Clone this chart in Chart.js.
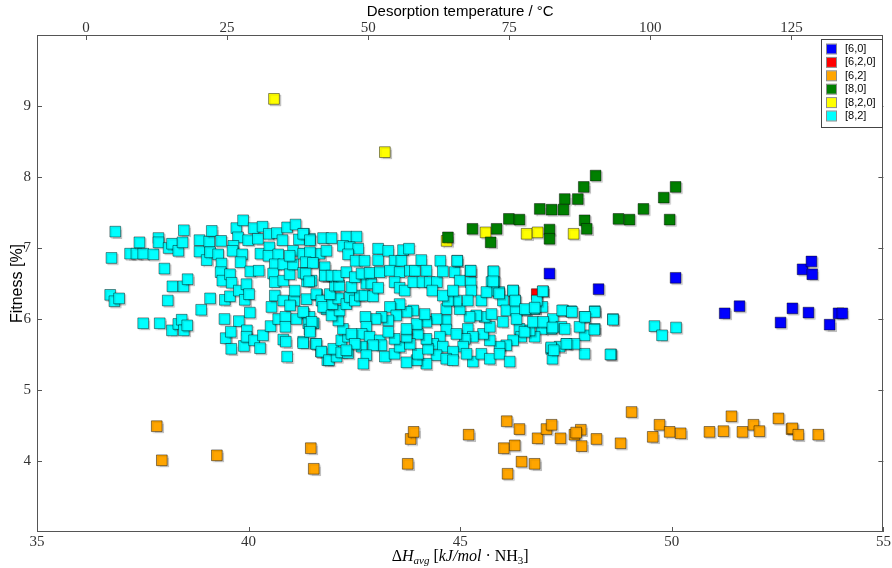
<!DOCTYPE html>
<html>
<head>
<meta charset="utf-8">
<script src="https://cdn.jsdelivr.net/npm/chart.js@4.4.1/dist/chart.umd.min.js"></script>
<style>
  body { margin: 0; background: #fff; }
  canvas { display: block; }
</style>
</head>
<body>
<canvas id="fitness" width="892" height="568"></canvas>
<script>
// tick labels
const xTicks = [35, 40, 45, 50, 55];
const yTicks = [4, 5, 6, 7, 8, 9];
const tempTicks = [0, 25, 50, 75, 100, 125];

// series names (legend order)
const seriesNames = ['[6,0]', '[6,2,0]', '[6,2]', '[8,0]', '[8,2,0]', '[8,2]'];

// [dH_avg, fitness] pairs
const s60 = [
  [47.11, 6.64], [48.27, 6.42], [50.09, 6.58], [51.25, 6.08], [51.60, 6.18],
  [52.57, 5.95], [52.85, 6.15], [53.09, 6.70], [53.30, 6.81], [53.32, 6.63],
  [53.23, 6.09], [53.73, 5.92], [53.94, 6.08], [54.03, 6.08]
];
const s620 = [[46.81, 6.35]];
const s62 = [
  [37.83, 4.49], [37.95, 4.01], [39.25, 4.08], [41.47, 4.18], [41.54, 3.89],
  [43.76, 3.96], [43.83, 4.31], [43.90, 4.41], [45.20, 4.37], [46.10, 4.56],
  [46.40, 4.45], [46.03, 4.18], [46.29, 4.22], [46.45, 3.99], [46.12, 3.82],
  [46.76, 3.96], [46.83, 4.32], [47.04, 4.45], [47.16, 4.51], [47.37, 4.32],
  [47.70, 4.37], [47.85, 4.44], [47.87, 4.21], [48.22, 4.31], [48.79, 4.25],
  [49.05, 4.69], [49.55, 4.34], [49.71, 4.51], [49.95, 4.41], [50.21, 4.39],
  [50.89, 4.41], [51.22, 4.42], [51.41, 4.63], [51.67, 4.41], [51.93, 4.51],
  [52.07, 4.42], [52.52, 4.60], [52.83, 4.45], [52.85, 4.46], [52.99, 4.37],
  [53.46, 4.37], [47.74, 4.40]
];
const s80 = [
  [48.20, 8.02], [47.92, 7.86], [50.09, 7.86], [47.47, 7.69], [47.78, 7.69],
  [49.81, 7.71], [46.88, 7.55], [47.16, 7.54], [47.44, 7.54], [49.33, 7.55],
  [46.15, 7.41], [46.40, 7.40], [48.74, 7.41], [49.00, 7.40], [49.95, 7.40],
  [47.94, 7.39], [47.99, 7.27], [45.29, 7.27], [45.86, 7.27], [47.11, 7.26],
  [47.11, 7.13], [45.72, 7.08], [44.71, 7.15]
];
const s820 = [
  [44.68, 7.10], [45.60, 7.22], [46.57, 7.20], [46.83, 7.22], [47.68, 7.20],
  [40.60, 9.10], [43.22, 8.35]
];
const s82 = [
  [36.85, 7.23], [36.76, 6.86], [36.73, 6.34], [36.83, 6.25], [36.94, 6.29],
  [37.20, 6.92], [37.35, 6.92], [37.51, 6.92], [37.42, 7.08], [37.75, 6.91],
  [37.87, 7.14], [37.87, 7.08], [38.01, 6.71], [38.11, 7.00], [38.19, 7.06],
  [38.34, 6.96], [38.44, 7.08], [38.47, 7.25], [38.20, 6.46], [38.46, 6.46],
  [38.56, 6.56], [38.09, 6.26], [37.51, 5.94], [37.90, 5.94], [38.19, 5.84],
  [38.34, 5.93], [38.42, 5.99], [38.47, 5.84], [38.55, 5.91], [38.88, 6.13],
  [39.09, 6.29], [38.84, 7.11], [38.84, 6.95], [39.07, 7.09], [39.13, 7.24],
  [39.01, 6.83], [39.09, 6.94], [39.28, 6.91], [39.35, 7.10], [39.36, 6.78],
  [39.34, 6.66], [39.38, 6.54], [39.56, 6.63], [39.60, 6.51], [39.44, 6.27],
  [39.56, 6.32], [39.77, 6.40], [39.95, 6.49], [39.91, 6.27], [40.01, 6.35],
  [40.03, 6.09], [39.43, 6.00], [39.77, 5.97], [39.46, 5.73], [39.58, 5.82],
  [39.59, 5.58], [39.89, 5.62], [39.96, 5.84], [39.95, 5.75], [40.13, 5.70],
  [40.27, 5.59], [40.34, 5.77], [40.52, 5.90], [40.70, 6.00], [40.82, 5.71],
  [40.88, 5.68], [40.91, 5.47], [41.29, 5.68], [41.59, 5.65], [41.71, 5.54],
  [41.86, 5.42], [41.30, 6.08], [41.44, 6.03], [41.41, 5.94], [41.54, 5.94],
  [41.44, 5.85], [40.87, 6.03], [40.87, 5.89], [41.13, 6.00], [40.54, 6.17],
  [40.62, 6.33], [40.82, 6.26], [41.08, 6.26], [40.98, 6.19], [41.09, 6.40],
  [41.37, 6.28], [41.62, 6.34], [41.76, 6.26], [41.84, 6.14], [39.71, 7.28],
  [39.87, 7.39], [39.75, 7.15], [39.99, 7.11], [40.12, 7.28], [40.22, 7.13],
  [40.33, 7.30], [40.48, 7.20], [40.67, 7.21], [40.80, 7.11], [40.91, 7.29],
  [41.11, 7.33], [41.31, 7.20], [41.19, 7.12], [41.45, 7.13], [41.76, 7.14],
  [39.64, 7.03], [39.62, 6.96], [39.85, 6.91], [39.81, 6.80], [40.04, 6.67],
  [40.24, 6.68], [40.28, 6.92], [40.49, 7.01], [40.47, 6.89], [40.70, 6.91],
  [40.62, 6.77], [40.58, 6.64], [40.62, 6.52], [40.82, 6.77], [40.82, 6.54],
  [40.97, 6.63], [41.05, 6.77], [41.05, 6.96], [40.97, 6.89], [41.33, 6.92],
  [41.29, 6.65], [41.38, 6.53], [41.49, 6.54], [41.52, 6.80], [41.68, 6.92],
  [41.80, 6.73], [41.80, 6.61], [41.84, 6.96], [41.60, 6.35],
  [41.29, 7.20], [41.45, 7.11], [41.29, 6.92], [41.45, 6.94], [41.35, 6.80],
  [41.52, 6.79], [41.35, 6.64], [41.43, 6.53], [41.72, 6.26], [41.76, 6.17],
  [41.29, 6.10], [41.49, 5.96], [41.45, 5.82], [41.29, 5.66], [41.60, 5.65],
  [41.72, 5.54], [41.90, 5.42], [42.08, 5.47], [42.00, 5.58], [42.19, 5.53],
  [42.35, 5.52], [42.19, 5.70], [42.35, 5.75], [42.23, 5.86], [42.12, 5.98],
  [41.96, 6.05], [42.15, 6.12], [41.98, 6.21], [42.12, 6.29], [41.92, 6.35],
  [42.31, 6.21], [42.39, 6.31], [42.51, 6.26], [42.63, 6.33], [42.74, 6.33],
  [42.94, 6.32], [42.78, 6.50], [42.90, 6.50], [43.06, 6.44], [42.04, 6.47],
  [42.14, 6.47], [42.43, 6.45], [41.80, 6.61], [41.96, 6.61], [42.12, 6.61],
  [42.31, 6.66], [42.51, 6.59], [42.67, 6.64], [42.86, 6.65], [43.10, 6.66],
  [41.96, 7.14], [42.31, 7.16], [42.55, 7.16], [42.23, 7.03], [42.39, 7.01],
  [42.59, 6.99], [42.35, 6.91], [42.53, 6.82], [42.74, 6.82], [43.06, 6.99],
  [43.06, 6.83], [43.30, 6.96], [43.45, 6.82], [43.65, 6.97], [43.79, 6.99],
  [43.61, 6.82], [43.34, 6.68], [43.57, 6.66], [43.81, 6.68], [43.93, 6.68],
  [44.08, 6.83], [44.20, 6.68], [43.45, 6.52], [43.57, 6.44], [43.69, 6.40],
  [43.89, 6.52], [44.11, 6.52], [44.28, 6.52], [44.45, 6.52], [44.34, 6.40],
  [44.53, 6.82], [44.59, 6.67], [44.87, 6.66], [44.93, 6.82], [44.99, 6.54],
  [45.24, 6.68], [45.25, 6.52], [45.26, 6.40], [45.78, 6.67], [45.74, 6.52],
  [45.81, 6.52], [45.92, 6.38], [46.25, 6.40], [46.01, 6.26], [46.29, 6.26],
  [46.09, 6.12], [46.31, 6.13], [46.55, 6.13], [46.76, 6.14], [46.96, 6.39],
  [46.94, 6.17], [46.81, 6.26], [47.19, 6.00], [47.43, 6.12], [47.62, 6.11],
  [47.94, 6.03], [48.18, 6.11], [48.61, 6.00], [48.18, 5.86], [47.94, 5.77],
  [47.51, 5.65], [47.35, 5.61], [47.15, 5.58], [47.18, 5.44], [47.94, 5.51],
  [48.57, 5.50], [47.82, 5.89], [47.39, 5.89], [47.15, 5.86], [46.92, 5.86],
  [46.76, 5.75], [46.64, 5.84], [46.40, 5.86], [46.44, 5.75], [46.25, 5.70],
  [46.09, 5.63], [45.93, 5.61], [45.70, 5.70], [45.54, 5.79], [45.70, 5.89],
  [45.58, 6.03], [45.74, 6.07], [45.38, 6.05], [45.22, 6.03], [45.18, 5.86],
  [45.30, 5.75], [45.11, 5.72], [45.07, 5.61], [45.30, 5.40], [45.50, 5.51],
  [45.70, 5.44], [45.93, 5.51], [46.17, 5.40], [44.99, 6.14], [44.91, 6.26],
  [44.67, 6.14], [44.71, 6.26], [44.59, 6.33], [44.83, 6.40], [44.66, 5.98],
  [44.44, 6.00], [44.20, 5.96], [44.67, 5.85], [44.91, 5.79], [44.52, 5.75],
  [44.36, 5.65], [44.59, 5.61], [44.83, 5.54], [44.44, 5.49], [44.67, 5.44],
  [44.83, 5.42], [44.20, 5.37], [43.97, 5.42], [44.00, 5.51], [44.24, 5.58],
  [44.20, 5.72], [44.00, 5.79], [43.97, 5.93], [44.16, 6.07], [43.89, 6.12],
  [43.73, 6.10], [43.57, 6.21], [43.34, 6.17], [43.49, 6.05], [43.30, 5.98],
  [43.14, 6.03], [43.00, 6.00], [42.76, 6.03], [42.78, 5.89], [42.67, 5.79],
  [42.86, 5.75], [43.10, 5.70], [43.14, 5.63], [42.94, 5.63], [42.67, 5.61],
  [42.78, 5.49], [42.71, 5.37], [43.22, 5.47], [43.45, 5.51], [43.73, 5.39],
  [43.57, 5.61], [43.81, 5.65], [43.73, 5.75], [43.45, 5.72], [43.73, 5.86],
  [43.30, 5.82], [42.43, 5.79], [42.51, 5.65], [42.31, 5.56], [46.01, 5.96],
  [46.33, 6.00], [46.52, 5.82], [46.72, 5.96], [46.96, 5.96], [45.15, 5.51],
  [45.78, 6.40], [45.50, 6.26], [45.62, 6.38], [45.18, 6.26],
  [44.93, 6.82], [45.25, 6.68], [45.79, 6.67], [45.78, 6.53], [46.25, 6.40],
  [45.92, 6.36], [46.95, 6.39], [46.30, 6.26], [46.53, 6.14], [46.76, 6.16],
  [47.41, 6.12], [47.64, 6.10], [48.18, 6.10], [48.61, 5.99], [49.59, 5.90],
  [49.77, 5.77], [50.10, 5.88], [47.95, 6.03], [48.17, 5.85], [47.47, 5.86],
  [47.18, 5.88], [47.70, 5.65], [47.51, 5.65], [47.15, 5.60], [47.21, 5.56],
  [48.55, 5.50]
];

const fills = ['#0000ff', '#ff0000', '#ffa500', '#008000', '#ffff00', '#00ffff'];
const drawOrder = [3, 5, 4, 1, 6, 2];
const allSeries = [s60, s620, s62, s80, s820, s82];

const datasets = allSeries.map((s, i) => ({
  label: seriesNames[i],
  data: s.map(p => ({ x: p[0], y: p[1] })),
  backgroundColor: fills[i],
  borderColor: 'rgba(0,0,0,0.45)',
  borderWidth: 1,
  pointStyle: 'rect',
  pointRadius: 7.6,
  pointHoverRadius: 7.6,
  order: drawOrder[i]
}));

const tickFont = { family: 'Liberation Serif', size: 15 };

// shadow behind markers
const markerShadow = {
  id: 'markerShadow',
  beforeDatasetsDraw(chart) {
    const c = chart.ctx;
    c.save();
    c.shadowColor = 'rgba(0,0,0,0.2)';
    c.shadowOffsetX = 1.5;
    c.shadowOffsetY = 1.5;
    c.shadowBlur = 1;
  },
  afterDatasetsDraw(chart) {
    chart.ctx.restore();
  }
};

// frame, inward ticks, titles, legend
const decorations = {
  id: 'decorations',
  afterDraw(chart) {
    const c = chart.ctx;
    const a = chart.chartArea;
    const sx = chart.scales.x, sx2 = chart.scales.x2, sy = chart.scales.y;
    c.save();
    c.strokeStyle = '#555';
    c.lineWidth = 1;
    c.strokeRect(Math.round(a.left) + 0.5, Math.round(a.top) + 0.5,
      Math.round(a.right - a.left) - 1, Math.round(a.bottom - a.top) - 1);
    c.beginPath();
    xTicks.forEach(v => {
      const px = Math.round(sx.getPixelForValue(v)) + 0.5;
      c.moveTo(px, a.bottom); c.lineTo(px, a.bottom - 5);
    });
    tempTicks.forEach(v => {
      const px = Math.round(sx2.getPixelForValue(v)) + 0.5;
      c.moveTo(px, a.top); c.lineTo(px, a.top + 5);
    });
    yTicks.forEach(v => {
      const py = Math.round(sy.getPixelForValue(v)) + 0.5;
      c.moveTo(a.left, py); c.lineTo(a.left + 5, py);
      c.moveTo(a.right, py); c.lineTo(a.right - 5, py);
    });
    c.stroke();

    // axis titles
    const midX = (a.left + a.right) / 2;
    c.fillStyle = '#000';
    c.textAlign = 'center';
    c.textBaseline = 'alphabetic';
    c.font = '15px "Liberation Sans"';
    c.fillText('Desorption temperature / °C', midX, 16);

    c.save();
    c.translate(22, (a.top + a.bottom) / 2);
    c.rotate(-Math.PI / 2);
    c.font = '16px "Liberation Sans"';
    c.fillText('Fitness [%]', 0, 0);
    c.restore();

    // x title with subscripts
    const base = 561;
    const parts = [
      ['Δ', 'normal', 0], ['H', 'italic', 0], ['avg', 'italic', 1],
      [' [', 'normal', 0], ['kJ/mol', 'italic', 0], [' · ', 'normal', 0],
      ['NH', 'normal', 0], ['3', 'normal', 1], [']', 'normal', 0]
    ];
    const fontFor = p => (p[1] === 'italic' ? 'italic ' : '') + (p[2] ? '11px' : '16px') + ' "Liberation Serif"';
    let total = 0;
    parts.forEach(p => { c.font = fontFor(p); total += c.measureText(p[0]).width; });
    let xx = midX - total / 2;
    c.textAlign = 'left';
    parts.forEach(p => {
      c.font = fontFor(p);
      c.fillText(p[0], xx, base + (p[2] ? 3 : 0));
      xx += c.measureText(p[0]).width;
    });

    // legend box
    const lx = 821, ly = 39, lw = 61, lh = 88;
    c.fillStyle = '#fff';
    c.fillRect(lx, ly, lw, lh);
    c.strokeStyle = '#444';
    c.strokeRect(lx + 0.5, ly + 0.5, lw, lh);
    c.font = '11px "Liberation Sans"';
    c.textBaseline = 'middle';
    seriesNames.forEach((name, i) => {
      const cy = 49 + i * 13.4;
      c.fillStyle = fills[i];
      c.fillRect(827, cy - 4.5, 9, 9);
      c.strokeStyle = 'rgba(0,0,0,0.45)';
      c.strokeRect(826.5, cy - 5, 10, 10);
      c.fillStyle = '#000';
      c.fillText(name, 845, cy);
    });
    c.restore();
  }
};

const ctx = document.getElementById('fitness').getContext('2d');
new Chart(ctx, {
  type: 'scatter',
  data: { datasets: datasets },
  options: {
    responsive: false,
    devicePixelRatio: 1,
    animation: false,
    events: [],
    layout: { padding: { left: 0, right: 8, top: 0, bottom: 0 } },
    plugins: { legend: { display: false }, tooltip: { enabled: false } },
    scales: {
      x: {
        type: 'linear', position: 'bottom', min: 35, max: 55,
        afterBuildTicks: s => { s.ticks = xTicks.map(v => ({ value: v })); },
        afterFit: s => { s.height = 36; },
        grid: { display: false, drawTicks: false },
        border: { display: false },
        ticks: { font: tickFont, color: '#333', padding: 1, maxRotation: 0 }
      },
      x2: {
        type: 'linear', position: 'top', min: -8.68, max: 141.3,
        afterBuildTicks: s => { s.ticks = tempTicks.map(v => ({ value: v })); },
        afterFit: s => { s.height = 35; },
        grid: { display: false, drawTicks: false },
        border: { display: false },
        ticks: { font: tickFont, color: '#333', padding: -2, maxRotation: 0 }
      },
      y: {
        type: 'linear', position: 'left', min: 3, max: 10,
        afterBuildTicks: s => { s.ticks = yTicks.map(v => ({ value: v })); },
        afterFit: s => { s.width = 37; },
        grid: { display: false, drawTicks: false },
        border: { display: false },
        ticks: { font: tickFont, color: '#333', padding: 6 }
      }
    }
  },
  plugins: [markerShadow, decorations]
});
</script>
</body>
</html>
